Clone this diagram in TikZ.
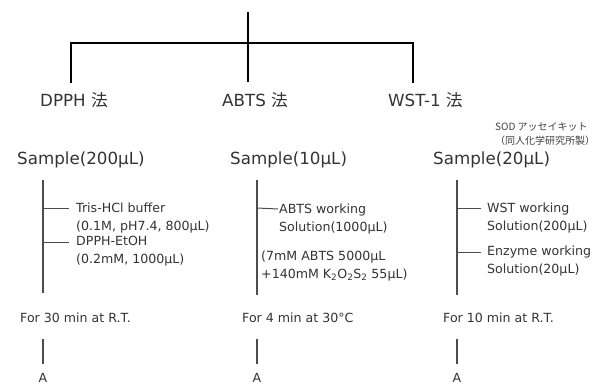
\documentclass[tikz,border=0pt]{standalone}
\usepackage{fontspec}
\setmainfont{DejaVu Sans}
\newfontfamily\jp{Noto Sans CJK JP}
\begin{document}
\begin{tikzpicture}[x=1pt,y=-1pt,
  tree/.style={line width=2.6pt,black},
  col/.style={line width=1.6pt,black!70},
  br/.style={line width=1pt,black!70},
  big/.style={inner sep=0pt,anchor=west,font=\fontsize{16.7}{19}\selectfont,text=black!80},
  small/.style={inner sep=0pt,anchor=west,font=\fontsize{12.6}{17.5}\selectfont,text=black!80,align=left},
  tiny/.style={inner sep=0pt,anchor=west,font=\jp\fontsize{10}{14}\selectfont,text=black!75,align=left}]
\useasboundingbox (0,0) rectangle (604,385);
% tree
\coordinate (top) at (248,12);
\coordinate (hl) at (71,43);
\coordinate (hr) at (413,43);
\coordinate (bl) at (71,82);
\coordinate (bm) at (248,82);
\coordinate (br) at (413,82);
\draw[tree] (top) -- (bm);
\draw[tree,line cap=rect] (bl) -- (hl) -- (hr) -- (br);
% method labels
\node[big] (m1) at (40,100) {DPPH {\jp 法}};
\node[big] (m2) at (222,100) {ABTS {\jp 法}};
\node[big] (m3) at (388,100) {WST-1 {\jp 法}};
\node[tiny] (sod) at (495,134) {SOD アッセイキット\\（同人化学研究所製）};
% samples
\node[big] (s1) at (17,160) {Sample(200μL)};
\node[big] (s2) at (230,160) {Sample(10μL)};
\node[big] (s3) at (433,160) {Sample(20μL)};
% DPPH column
\coordinate (c1t) at (43,180);
\coordinate (c1b) at (43,293);
\draw[col] (c1t) -- (c1b);
\node[small] (d1) at (76,218) {Tris-HCl buffer\\(0.1M, pH7.4, 800μL)};
\node[small] (d2) at (76,251) {DPPH-EtOH\\(0.2mM, 1000μL)};
\draw[br] (43,208) -- ([xshift=-7pt]d1.west |- 0,208);
\draw[br] (43,242) -- ([xshift=-7pt]d2.west |- 0,242);
\node[small] (f1) at (20,318) {For 30 min at R.T.};
\node[small,anchor=center] (A1) at (43,378) {A};
\draw[col] (43,339) -- (A1.north |- 0,364);
% ABTS column
\coordinate (c2t) at (257,180);
\coordinate (c2b) at (257,295);
\draw[col] (c2t) -- (c2b);
\node[small] (e1) at (279,219) {ABTS working\\Solution(1000μL)};
\node[small] (e2) at (261,266) {(7mM ABTS 5000μL\\+140mM K\textsubscript{2}O\textsubscript{2}S\textsubscript{2} 55μL)};
\draw[br] (257,208) -- ([xshift=-1pt]e1.west |- 0,209);
\node[small] (f2) at (242,318) {For 4 min at 30°C};
\node[small,anchor=center] (A2) at (257,378) {A};
\draw[col] (257,339) -- (A2.north |- 0,364);
% WST column
\coordinate (c3t) at (457,180);
\coordinate (c3b) at (457,295);
\draw[col] (c3t) -- (c3b);
\node[small] (w1) at (487,218) {WST working\\Solution(200μL)};
\node[small] (w2) at (487,261) {Enzyme working\\Solution(20μL)};
\draw[br] (457,208) -- ([xshift=-6pt]w1.west |- 0,208);
\draw[br] (457,252) -- ([xshift=-6pt]w2.west |- 0,252);
\node[small] (f3) at (443,318) {For 10 min at R.T.};
\node[small,anchor=center] (A3) at (457,378) {A};
\draw[col] (457,339) -- (A3.north |- 0,364);
\end{tikzpicture}
\end{document}
